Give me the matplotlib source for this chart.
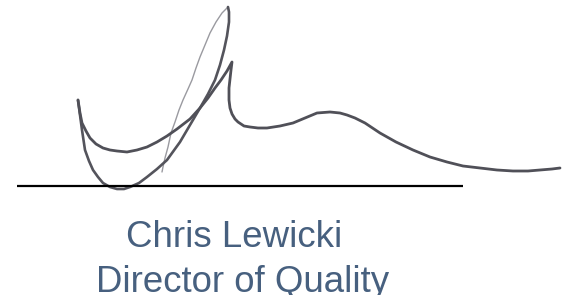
import matplotlib
matplotlib.use("Agg")
import matplotlib.pyplot as plt

# Signature strokes (image pixel coordinates, y downward)
outer_x = [78, 80, 82, 85, 89, 93, 98, 103, 110, 117, 124, 130, 139, 147, 157, 167, 180, 190, 200, 208, 215, 220, 224, 227, 229, 229, 228]
outer_y = [100, 115, 130, 150, 161, 170, 177, 183, 187, 189, 189, 187, 183, 177, 169, 160, 142, 125, 108, 94, 80, 65, 50, 36, 22, 12, 7]

light_x = [228, 222, 216, 210, 205, 200, 196, 192, 188, 183, 179, 175, 171, 168, 165, 163, 162]
light_y = [7, 13, 22, 33, 45, 57, 68, 80, 89, 100, 110, 122, 133, 147, 158, 167, 172]

inner_x = [78, 80, 82, 86, 90, 96, 103, 110, 117, 127, 137, 147, 157, 167, 177, 190, 200, 208, 215, 221, 227, 232,
           231, 230, 229, 229, 230, 232, 235, 238, 244, 250, 258, 267, 280, 293, 305, 317, 330, 340, 347, 355, 365,
           380, 396, 413, 430, 447, 463, 480, 497, 513, 528, 540, 552, 560]
inner_y = [100, 113, 123, 131, 138, 144, 148, 150, 151, 152, 150, 147, 142, 136, 129, 119, 108, 98, 88, 80, 71, 62,
           70, 79, 88, 100, 108, 114, 119, 122, 126, 127, 128, 128, 126, 123, 118, 113, 112, 113, 115, 118, 123,
           133, 142, 150, 157, 162, 166, 168, 170, 171, 171, 170, 169, 168]

# Signature line
rule_x = [17, 463]
rule_y = [185.5, 185.5]

# Caption text
name_text = "Chris Lewicki"
title_text = "Director of Quality"

fig = plt.figure(figsize=(5.69, 2.95), dpi=100)
ax = fig.add_axes([0, 0, 1, 1])
ax.set_xlim(0, 569)
ax.set_ylim(295, 0)
ax.axis("off")

ax.plot(light_x, light_y, color="#9a9aa0", lw=1.0, solid_capstyle="round", solid_joinstyle="round")
ax.plot(outer_x, outer_y, color="#54545c", lw=1.9, solid_capstyle="round", solid_joinstyle="round")
ax.plot(inner_x, inner_y, color="#505058", lw=2.0, solid_capstyle="round", solid_joinstyle="round")
ax.plot(rule_x, rule_y, color="#000000", lw=1.6, solid_capstyle="butt")

txt_color = "#47607f"
ax.text(126, 247, name_text, color=txt_color, fontsize=26.4, family="Liberation Sans",
        ha="left", va="baseline")
ax.text(96, 292, title_text, color=txt_color, fontsize=26.4, family="Liberation Sans",
        ha="left", va="baseline")

fig.savefig("out.png", dpi=100)
